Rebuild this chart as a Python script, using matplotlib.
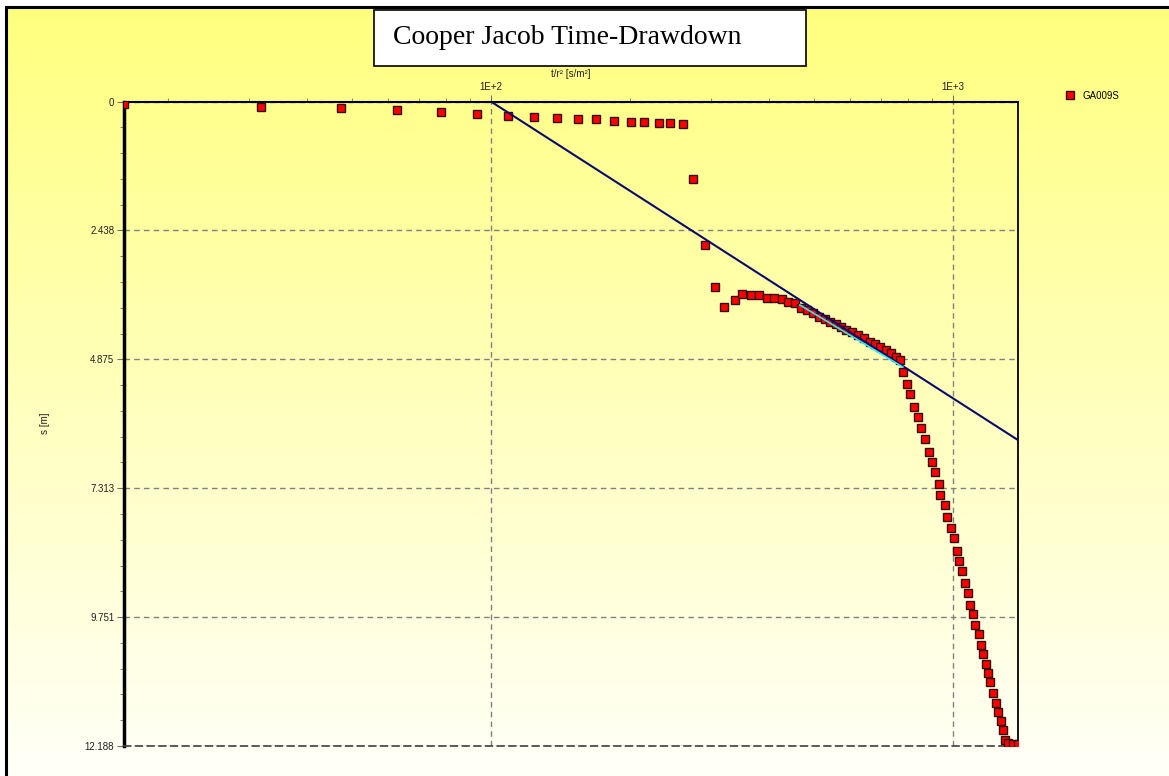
import numpy as np
import matplotlib
matplotlib.use("Agg")
import matplotlib.pyplot as plt
from matplotlib.patches import Rectangle
from matplotlib.ticker import FixedLocator, LogLocator, NullFormatter, FuncFormatter, AutoMinorLocator

# observed drawdown, well GA009S  (t/r^2 in s/m^2, s in m)
t_r2 = [16.06, 31.8, 47.3, 62.6, 78.0, 93.3, 108.7, 124.1, 139.2, 154.1, 168.8, 184.9,
        200.7, 214.7, 231.0, 244.4, 260.3, 274.6, 290.5, 305.3, 319.9, 337.0, 349.9,
        365.4, 380.3, 395.2, 410.5, 425.9, 439.5, 454.4, 468.8, 483.1, 498.5, 512.9,
        527.7, 543.6, 558.1, 574.2, 588.7, 606.6, 623.7, 641.7, 661.1, 678.8, 697.3,
        716.1, 736.6, 755.2, 767.8, 780.6, 797.8, 809.8, 824.5, 839.8, 855.6, 872.8,
        888.6, 900.5, 915.5, 932.5, 940.4, 960.6, 973.8, 990.2, 1005.0, 1020.2,
        1031.8, 1045.8, 1063.1, 1077.6, 1089.9, 1104.7, 1119.6, 1138.3, 1153.6,
        1165.3, 1180.5, 1194.7, 1206.6, 1224.8, 1239.0, 1253.1, 1270.2, 1287.3,
        1300.4, 1317.3, 1350.5, 1384.6]
s = [0.05, 0.095, 0.123, 0.161, 0.199, 0.236, 0.269, 0.287, 0.312, 0.337, 0.337, 0.363,
     0.382, 0.382, 0.407, 0.407, 0.420, 1.471, 2.714, 3.508, 3.881, 3.748, 3.640,
     3.659, 3.659, 3.716, 3.716, 3.729, 3.797, 3.816, 3.905, 3.943, 3.994, 4.070,
     4.113, 4.164, 4.213, 4.270, 4.321, 4.365, 4.416, 4.478, 4.542, 4.592, 4.637,
     4.699, 4.762, 4.826, 4.889, 5.110, 5.348, 5.531, 5.772, 5.961, 6.174, 6.377,
     6.623, 6.817, 7.012, 7.233, 7.436, 7.636, 7.852, 8.071, 8.260, 8.501,
     8.684, 8.879, 9.100, 9.301, 9.527, 9.698, 9.906, 10.076, 10.284,
     10.448, 10.637, 10.813, 10.984, 11.192, 11.369, 11.545, 11.721, 11.880,
     12.075, 12.126, 12.150, 12.160]

# Cooper-Jacob straight line: s = ds * log10(t / t0)
t0 = 100.0
ds = 5.61
# selected fitting window (cyan segment)
fit_t = [466.6, 779.6]
fit_s = [3.848, 5.021]

s_max = 12.1885
ytick_labels = ["0", "2.438", "4.875", "7.313", "9.751", "12.188"]

W, H = 1169, 776
fig = plt.figure(figsize=(W / 100, H / 100), dpi=100)

# yellow gradient background
bg = fig.add_axes([0, 0, 1, 1], zorder=-10)
grad = np.linspace(0, 1, 256).reshape(-1, 1)
top = np.array([255, 255, 125]) / 255
bot = np.array([255, 255, 248]) / 255
img = top[None, None, :] * (1 - grad[:, :, None]) + bot[None, None, :] * grad[:, :, None]
bg.imshow(img, aspect="auto", extent=[0, 1, 0, 1])
bg.axis("off")
bg.set_xlim(0, 1)
bg.set_ylim(0, 1)
# white margin + black frame (top/left)
bg.add_patch(Rectangle((0, 0), 6 / W, 1, color="white", transform=bg.transAxes))
bg.add_patch(Rectangle((0, 1 - 7 / H), 1, 7 / H, color="white", transform=bg.transAxes))
bg.add_patch(Rectangle((6 / W, -0.1), 1.2, 1.1 - 7 / H, fill=False, ec="black", lw=2.2,
                       transform=bg.transAxes))

ax = fig.add_axes([124 / W, 30 / H, 894 / W, 644.5 / H])
ax.patch.set_alpha(0)

ax.plot(t_r2, s, "s", color="red", mec="#301000", mew=1.0, ms=6, label="GA009S", zorder=3)
tt = np.array([t0, t_r2[-1]])
ax.plot(tt, ds * np.log10(tt / t0), color="#0a0a6e", lw=1.5, zorder=4)
ax.plot(fit_t, fit_s, color="#30e8f0", lw=1.2, zorder=5)

ax.set_xscale("log")
ax.set_xlim(t_r2[0], t_r2[-1])
ax.set_ylim(s_max, 0)

ax.xaxis.tick_top()
ax.xaxis.set_label_position("top")
ax.xaxis.set_major_locator(FixedLocator([100, 1000]))
ax.xaxis.set_major_formatter(FuncFormatter(lambda v, p: "1E+%d" % round(np.log10(v))))
ax.xaxis.set_minor_locator(LogLocator(base=10, subs=np.arange(2, 10)))
ax.xaxis.set_minor_formatter(NullFormatter())

ax.yaxis.set_major_locator(FixedLocator(np.linspace(0, s_max, 6)))
ax.set_yticklabels(ytick_labels)
ax.yaxis.set_minor_locator(AutoMinorLocator(5))

ax.tick_params(which="major", length=5, color="#707070", labelsize=7, pad=2,
               labelcolor="#202020")
ax.tick_params(which="minor", length=3, color="#707070")
for lab in ax.get_xticklabels() + ax.get_yticklabels():
    lab.set_family("Liberation Sans")

ax.grid(True, which="major", color="#808080", ls=(0, (4, 3)), lw=1)

ax.spines["left"].set_linewidth(2.5)
ax.spines["right"].set_linewidth(1.3)
ax.spines["top"].set_linewidth(1.5)
ax.spines["bottom"].set_linestyle((0, (4, 3)))
ax.spines["bottom"].set_color("#404040")
ax.spines["bottom"].set_linewidth(1.2)

ax.set_xlabel("t/r² [s/m²]", fontsize=7, family="Liberation Sans", color="#202020")
ax.xaxis.set_label_coords(0.5, 1.038)
ax.set_ylabel("s [m]", fontsize=7, family="Liberation Sans", color="#202020")
ax.yaxis.set_label_coords(-0.083, 0.5)

ax.legend(loc="upper left", bbox_to_anchor=(1056 / W, 1 - 82 / H),
          bbox_transform=fig.transFigure, frameon=False,
          handlelength=1.0, handletextpad=0.8, prop={"family": "Liberation Sans", "size": 7})

# title box
fig.patches.append(Rectangle((374 / W, 1 - 66 / H), 432 / W, 56 / H, fc="white", ec="black",
                             lw=1.2, transform=fig.transFigure, figure=fig))
fig.text(393 / W, 1 - 38 / H, "Cooper Jacob Time-Drawdown", family="Liberation Serif",
         fontsize=20, va="center", ha="left")

fig.savefig("out.png", dpi=100)
